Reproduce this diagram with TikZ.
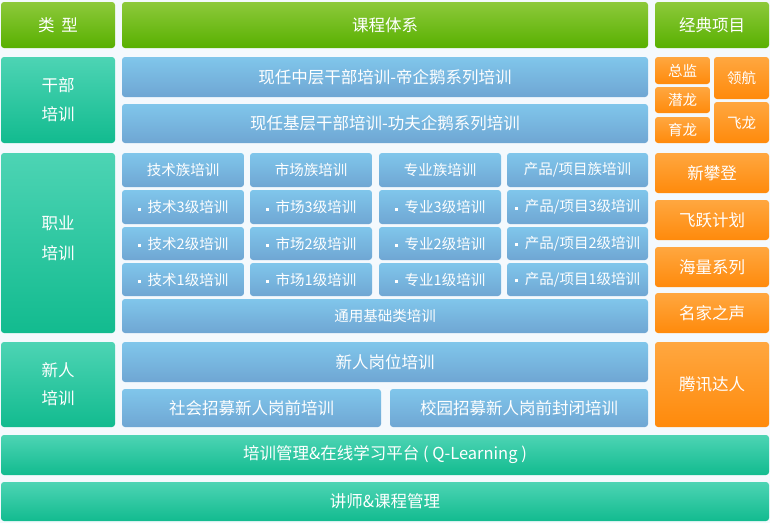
\documentclass[tikz,border=0pt]{standalone}
\usepackage{fontspec}
\setmainfont{Noto Sans CJK SC}
\definecolor{bgpage}{HTML}{F4F9FD}
\definecolor{greentop}{HTML}{8DC93B}
\definecolor{greenbot}{HTML}{58B000}
\definecolor{tealtop}{HTML}{4DD4B4}
\definecolor{tealbot}{HTML}{12BB8F}
\definecolor{bluetop}{HTML}{80C6EB}
\definecolor{bluebot}{HTML}{6FA6D3}
\definecolor{orangetop}{HTML}{FFA740}
\definecolor{orangebot}{HTML}{FF8A0B}
\newcommand{\sq}{\raisebox{2pt}{\rule{3pt}{3pt}}\hspace{7pt}}
\begin{document}
\begin{tikzpicture}[x=1pt,y=-1pt,
    box/.style={rounded corners=3pt,inner sep=0pt,text=white,align=center},
    greenbox/.style={box,top color=greentop,bottom color=greenbot,font=\fontsize{16.5}{19}\selectfont},
    tealbox/.style={box,top color=tealtop,bottom color=tealbot,font=\fontsize{16.5}{29}\selectfont},
    bluebox/.style={box,top color=bluetop,bottom color=bluebot,font=\fontsize{16.5}{19}\selectfont},
    smallblue/.style={bluebox,font=\fontsize{14.5}{17}\selectfont},
    orangebox/.style={box,top color=orangetop,bottom color=orangebot,font=\fontsize{16.5}{19}\selectfont},
    smallorange/.style={orangebox,font=\fontsize{14.5}{17}\selectfont}]

    \fill[bgpage] (0,0) rectangle (770,523);
    \useasboundingbox (0,0) rectangle (770,523);

    % header row
    \node[greenbox,minimum width=114pt,minimum height=46pt] (type) at (58,25) {类\hspace{0.4em}型};
    \node[greenbox,minimum width=526pt,minimum height=46pt] (course) at (385,25) {课程体系};
    \node[greenbox,minimum width=114pt,minimum height=46pt] (classic) at (712,25) {经典项目};

    % left column
    \node[tealbox,minimum width=114pt,minimum height=86pt] (cadre) at (58,100) {干部\\培训};
    \node[tealbox,minimum width=114pt,minimum height=180pt] (career) at (58,243) {};
    \node[text=white,align=center,inner sep=0pt,font=\fontsize{16.5}{30}\selectfont] (career-t) at (58,238.5) {职业\\培训};
    \node[tealbox,minimum width=114pt,minimum height=85pt,font=\fontsize{16.5}{28}\selectfont] (newhire) at (58,384.5) {新人\\培训};

    % cadre training
    \node[bluebox,minimum width=526pt,minimum height=40pt] (middle) at (385,77) {现任中层干部培训-帝企鹅系列培训};
    \node[bluebox,minimum width=526pt,minimum height=39pt] (base) at (385,123.5) {现任基层干部培训-功夫企鹅系列培训};

    % career training grid
    \foreach \cx/\w/\name/\head in {183/122/tech/技术, 311/122/market/市场, 440/122/pro/专业, 577.5/141/prod/{产品/项目}}{
        \node[smallblue,minimum width=\w pt,minimum height=34pt] (\name-h) at (\cx,170) {\head 族培训};
        \node[smallblue,minimum width=\w pt,minimum height=34pt] (\name-3) at (\cx,207) {\sq\head 3级培训};
        \node[smallblue,minimum width=\w pt,minimum height=33pt] (\name-2) at (\cx,243.5) {\sq\head 2级培训};
        \node[smallblue,minimum width=\w pt,minimum height=33pt] (\name-1) at (\cx,279.5) {\sq\head 1级培训};
    }
    \node[smallblue,minimum width=526pt,minimum height=34pt] (general) at (385,316) {通用基础类培训};

    % new hire training
    \node[bluebox,minimum width=526pt,minimum height=40pt] (post) at (385,362) {新人岗位培训};
    \node[bluebox,minimum width=259pt,minimum height=38pt] (social) at (251.5,408) {社会招募新人岗前培训};
    \node[bluebox,minimum width=258pt,minimum height=38pt] (campus) at (519,408) {校园招募新人岗前封闭培训};

    % classic projects
    \node[smallorange,minimum width=55pt,minimum height=27pt] (director) at (682.5,70.5) {总监};
    \node[smallorange,minimum width=55pt,minimum height=26pt] (qianlong) at (682.5,100) {潜龙};
    \node[smallorange,minimum width=55pt,minimum height=26pt] (yulong) at (682.5,130) {育龙};
    \node[smallorange,minimum width=55pt,minimum height=42pt] (pilot) at (741.5,78) {领航};
    \node[smallorange,minimum width=55pt,minimum height=41pt] (feilong) at (741.5,122.5) {飞龙};
    \node[orangebox,minimum width=114pt,minimum height=40pt] (climb) at (712,173) {新攀登};
    \node[orangebox,minimum width=114pt,minimum height=40pt] (leap) at (712,220) {飞跃计划};
    \node[orangebox,minimum width=114pt,minimum height=40pt] (ocean) at (712,267) {海量系列};
    \node[orangebox,minimum width=114pt,minimum height=40pt] (voice) at (712,313) {名家之声};
    \node[orangebox,minimum width=114pt,minimum height=85pt] (talent) at (712,384.5) {腾讯达人};

    % platform rows
    \node[tealbox,minimum width=768pt,minimum height=40pt] (platform) at (385,455) {培训管理\&在线学习平台 ( Q-Learning )};
    \node[tealbox,minimum width=768pt,minimum height=39pt] (lecturer) at (385,501.5) {讲师\&课程管理};

\end{tikzpicture}
\end{document}
